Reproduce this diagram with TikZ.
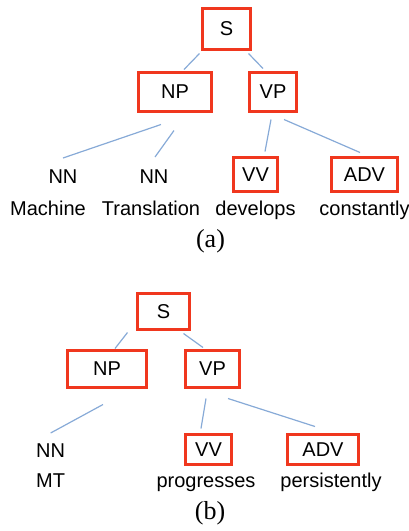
\documentclass[tikz,border=0pt]{standalone}
\usepackage{fontspec}
\setmainfont{Liberation Serif}
\setsansfont{Liberation Sans}
\usepackage{tikz}
\usetikzlibrary{calc}
\definecolor{boxred}{RGB}{240, 55, 30}
\definecolor{edgeblue}{RGB}{135, 170, 215}

\tikzset{
  cat/.style={draw=boxred, line width=3pt, inner sep=0pt, font=\sffamily\fontsize{20}{22}\selectfont},
  word/.style={anchor=base, inner sep=0pt, font=\sffamily\fontsize{20}{22}\selectfont},
  edge/.style={draw=edgeblue, line width=1.2pt},
  caption/.style={font=\fontsize{26}{28}\selectfont}
}

\begin{document}
\begin{tikzpicture}[x=1pt, y=-1pt]
    \useasboundingbox (0,0) rectangle (409,531);
    % tree (a)
    \node[cat, minimum width=48pt, minimum height=41pt] (sA) at (226.5, 29) {S};
    \node[cat, minimum width=73pt, minimum height=39pt] (npA) at (175, 92) {NP};
    \node[cat, minimum width=47pt, minimum height=39pt] (vpA) at (273, 92) {VP};
    \node[cat, minimum width=44pt, minimum height=34pt] (vvA) at (255.5, 174.5) {VV};
    \node[cat, minimum width=66pt, minimum height=34pt] (advA) at (364.5, 174.5) {ADV};
    \node[word] (nnA1) at (63, 183) {NN};
    \node[word] (nnA2) at (154, 183) {NN};
    \node[word] (wMachine) at (48, 215) {Machine};
    \node[word] (wTranslation) at (151, 215) {Translation};
    \node[word] (wDevelops) at (255.5, 215) {develops};
    \node[word] (wConstantly) at (364.5, 215) {constantly};
    \node[caption] (capA) at (210.5, 241.5) {(a)};

    \draw[edge] ($(sA.south west)+(-1.5,2.5)$) -- ($(npA.north)+(9,-1.5)$);
    \draw[edge] ($(sA.south east)+(-3.5,2.5)$) -- ($(vpA.north)+(-10,-2.5)$);
    \draw[edge] ($(npA.south)+(-14,11.5)$) -- ($(nnA1.base)+(0,-25)$);
    \draw[edge] ($(npA.south)+(-1,17.5)$) -- ($(nnA2.base)+(1,-26)$);
    \draw[edge] ($(vpA.south)+(-2,6.5)$) -- ($(vvA.north)+(9.5,-4.5)$);
    \draw[edge] ($(vpA.south)+(11,6.5)$) -- ($(advA.north)+(-4.5,-3.5)$);

    % tree (b)
    \node[cat, minimum width=52pt, minimum height=36pt] (sB) at (163.5, 311.5) {S};
    \node[cat, minimum width=79pt, minimum height=37pt] (npB) at (107, 369) {NP};
    \node[cat, minimum width=54pt, minimum height=37pt] (vpB) at (212.5, 369) {VP};
    \node[cat, minimum width=46pt, minimum height=30pt] (vvB) at (208.5, 449.5) {VV};
    \node[cat, minimum width=71pt, minimum height=30pt] (advB) at (323, 449.5) {ADV};
    \node[word, anchor=base west] (nnB) at (36, 457) {NN};
    \node[word, anchor=base west] (wMT) at (36, 487) {MT};
    \node[word] (wProgresses) at (206, 487) {progresses};
    \node[word] (wPersistently) at (331, 487) {persistently};
    \node[caption] (capB) at (210, 513) {(b)};

    \draw[edge] ($(sB.south west)+(-8.5,1.5)$) -- ($(npB.north)+(8,-0.5)$);
    \draw[edge] ($(sB.south east)+(-7.5,2.5)$) -- ($(vpB.north)+(-9.5,-1.5)$);
    \draw[edge] ($(npB.south)+(-4,15.5)$) -- ($(nnB.base)+(0,-24)$);
    \draw[edge] ($(vpB.south)+(-6.5,9.5)$) -- ($(vvB.north)+(-7.5,-4.5)$);
    \draw[edge] ($(vpB.south)+(15.5,9.5)$) -- ($(advB.north)+(-8,-6.5)$);
  \end{tikzpicture}
\end{document}
